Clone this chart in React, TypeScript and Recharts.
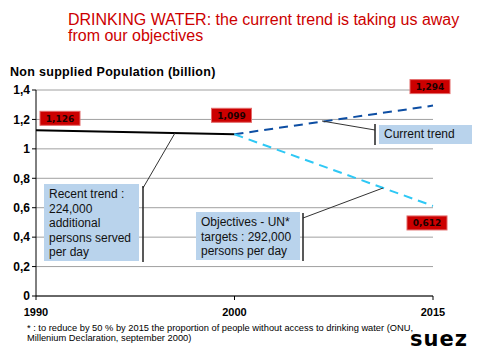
import { LineChart, Line, XAxis, YAxis, CartesianGrid, LabelList } from "recharts";

const years = ["1990", "2000", "2015"];
const recentTrend = [1.126, 1.099, null];
const currentTrend = [null, 1.099, 1.294];
const objectives = [null, 1.099, 0.612];
const yTicks = [0, 0.2, 0.4, 0.6, 0.8, 1, 1.2, 1.4];

const data = years.map((year, i) => ({
  year,
  recent: recentTrend[i],
  current: currentTrend[i],
  objective: objectives[i],
}));

const fmt = (v: number) => String(v).replace(".", ",");

// offsets of the red value boxes, relative to the point
function redBox(dx: number, dy: number, showAt: number[]) {
  return (props: any) => {
    const { x, y, value, index } = props;
    if (value == null || !showAt.includes(index)) return null;
    const bx = x + dx;
    const by = y + dy;
    return (
      <g>
        <rect x={bx} y={by} width={40} height={14} fill="#cc0000" stroke="#e36b6b" strokeWidth={1} />
        <text
          x={bx + 20}
          y={by + 10.5}
          textAnchor="middle"
          fontSize={9}
          fontWeight="bold"
          fontFamily="Verdana, DejaVu Sans, sans-serif"
          fill="#1a0000"
        >
          {Number(value).toFixed(3).replace(".", ",")}
        </text>
      </g>
    );
  };
}

const calloutStyle: React.CSSProperties = {
  position: "absolute",
  background: "#b9d3ec",
  fontFamily: "Arial, Liberation Sans, sans-serif",
  fontSize: 12,
  lineHeight: "14.5px",
  color: "#111",
  boxSizing: "border-box",
};

export default function App() {
  return (
    <div style={{ position: "absolute", left: 0, top: 0, width: 481, height: 361, background: "#fff", fontFamily: "Arial, Liberation Sans, sans-serif" }}>
      <div style={{ position: "absolute", left: 68, top: 12, color: "#cc0000", fontSize: 16, lineHeight: "16px" }}>
        DRINKING WATER: the current trend is taking us away
        <br />
        from our objectives
      </div>
      <div style={{ position: "absolute", left: 10, top: 65, fontSize: 12.5, fontWeight: "bold", color: "#000", letterSpacing: 0.3 }}>
        Non supplied Population (billion)
      </div>

      <LineChart width={481} height={361} data={data} margin={{ top: 90, right: 48, left: 0, bottom: 0 }}>
        <CartesianGrid vertical={false} stroke="#a0a0a0" />
        <XAxis
          dataKey="year"
          height={65}
          axisLine={{ stroke: "#000" }}
          tickLine={{ stroke: "#000" }}
          tickSize={4}
          tick={{ fill: "#000", fontSize: 11, fontWeight: "bold", fontFamily: "Arial, Liberation Sans, sans-serif" }}
          tickMargin={8}
          interval={0}
        />
        <YAxis
          width={36}
          domain={[0, 1.4]}
          ticks={yTicks}
          tickFormatter={fmt}
          axisLine={{ stroke: "#000" }}
          tickLine={{ stroke: "#000" }}
          tickSize={4}
          tick={{ fill: "#000", fontSize: 12, fontWeight: "bold", fontFamily: "Arial, Liberation Sans, sans-serif" }}
        />
        <Line dataKey="recent" stroke="#000" strokeWidth={2} dot={false} isAnimationActive={false}>
          <LabelList dataKey="recent" content={redBox(4, -19, [0])} />
        </Line>
        <Line dataKey="current" stroke="#0d4ea3" strokeWidth={2} strokeDasharray="9 6" dot={false} isAnimationActive={false}>
          <LabelList dataKey="current" content={redBox(-23, -26, [1, 2])} />
        </Line>
        <Line dataKey="objective" stroke="#2ec8f5" strokeWidth={2} strokeDasharray="9 6" dot={false} isAnimationActive={false}>
          <LabelList dataKey="objective" content={redBox(-26, 10, [2])} />
        </Line>
      </LineChart>

      <svg width={481} height={361} style={{ position: "absolute", left: 0, top: 0, pointerEvents: "none" }}>
        <line x1={143} y1={188} x2={175} y2={133} stroke="#333" strokeWidth={1} />
        <line x1={143} y1={186} x2={143} y2={262} stroke="#222" strokeWidth={1.5} />
        <line x1={375} y1={130} x2={322} y2={121} stroke="#333" strokeWidth={1} />
        <line x1={375} y1={124} x2={375} y2={145} stroke="#222" strokeWidth={1.5} />
        <line x1={303} y1={218} x2={383} y2={188} stroke="#333" strokeWidth={1} />
        <line x1={303} y1={213} x2={303} y2={261} stroke="#222" strokeWidth={1.5} />
      </svg>

      <div style={{ ...calloutStyle, left: 44, top: 184, width: 95, height: 77, padding: "3px 0 0 5px" }}>
        Recent trend :<br />224,000<br />additional<br />persons served<br />per day
      </div>
      <div style={{ ...calloutStyle, left: 379, top: 125, width: 93, height: 19, padding: "2px 0 0 5px" }}>
        Current trend
      </div>
      <div style={{ ...calloutStyle, left: 196, top: 212, width: 104, height: 48, padding: "3px 0 0 5px" }}>
        Objectives - UN*<br />targets : 292,000<br />persons per day
      </div>

      <div style={{ position: "absolute", left: 27, top: 323, fontSize: 9.3, lineHeight: "10px", color: "#000" }}>
        * : to reduce by 50 % by 2015 the proportion of people without access to drinking water (ONU,
        <br />
        Millenium Declaration, september 2000)
      </div>
      <div
        style={{
          position: "absolute",
          left: 410,
          top: 328,
          fontSize: 21,
          fontWeight: "bold",
          letterSpacing: 1,
          fontFamily: "DejaVu Sans, sans-serif",
          color: "#000",
          lineHeight: "22px",
        }}
      >
        suez
      </div>
    </div>
  );
}
